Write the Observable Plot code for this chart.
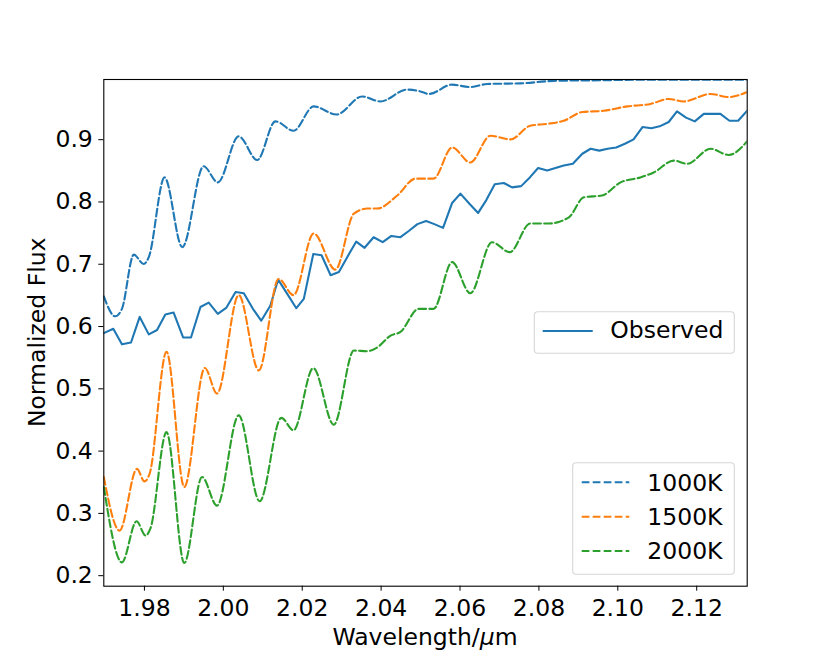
<!DOCTYPE html>
<html>
<head>
<meta charset="utf-8">
<script src="https://cdn.jsdelivr.net/npm/d3@7"></script>
<script src="https://cdn.jsdelivr.net/npm/@observablehq/plot@0.6"></script>
<style>
  html, body { margin: 0; padding: 0; background: white; }
  #chart svg { display: block; }
</style>
</head>
<body>
<div id="chart"></div>
<script>
// ---------- data ----------
const obsWavelength = [1.9697,1.9721,1.9743,1.9766,1.9788,1.9811,1.9832,1.9853,1.9874,1.9898,1.9918,1.9942,1.9963,1.9986,2.0008,2.0031,2.0052,2.0075,2.0096,2.0119,2.0139,2.0162,2.0185,2.0204,2.0228,2.0249,2.0272,2.0293,2.0314,2.0337,2.0358,2.0381,2.0404,2.0426,2.0449,2.0470,2.0492,2.0514,2.0535,2.0557,2.0580,2.0601,2.0625,2.0646,2.0667,2.0688,2.0711,2.0732,2.0755,2.0777,2.0798,2.0821,2.0842,2.0863,2.0886,2.0910,2.0931,2.0953,2.0974,2.0996,2.1018,2.1040,2.1063,2.1085,2.1106,2.1129,2.1150,2.1173,2.1195,2.1218,2.1239,2.1260,2.1283,2.1305,2.1328];
const obsFlux = [0.587,0.594,0.569,0.572,0.613,0.585,0.592,0.617,0.620,0.580,0.580,0.629,0.636,0.618,0.628,0.653,0.651,0.626,0.607,0.631,0.673,0.650,0.627,0.642,0.714,0.712,0.680,0.685,0.709,0.734,0.724,0.741,0.733,0.743,0.741,0.751,0.762,0.767,0.762,0.756,0.796,0.811,0.794,0.780,0.801,0.826,0.828,0.821,0.823,0.837,0.852,0.848,0.852,0.856,0.859,0.875,0.883,0.880,0.883,0.885,0.891,0.898,0.918,0.916,0.919,0.926,0.943,0.933,0.927,0.939,0.939,0.939,0.928,0.928,0.944];

const wl1000 = [1.9697,1.9726,1.9743,1.9773,1.9798,1.9811,1.9851,1.9896,1.9950,1.9986,2.0039,2.0086,2.0132,2.0178,2.0229,2.0287,2.0352,2.0398,2.0466,2.0500,2.0521,2.0580,2.0625,2.0669,2.0753,2.0837,2.0956,2.1083,2.1209,2.1328];
const flux1000 = [0.646,0.614,0.626,0.713,0.698,0.709,0.837,0.725,0.855,0.829,0.903,0.865,0.927,0.912,0.951,0.938,0.967,0.959,0.978,0.975,0.971,0.986,0.982,0.987,0.988,0.992,0.993,0.994,0.994,0.994];

const wl1500 = [1.9697,1.9737,1.9781,1.9800,1.9813,1.9856,1.9901,1.9953,1.9984,2.0039,2.0090,2.0140,2.0178,2.0229,2.0284,2.0331,2.0365,2.0390,2.0441,2.0487,2.0533,2.0580,2.0626,2.0677,2.0728,2.0778,2.0821,2.0863,2.0910,2.0964,2.1024,2.1083,2.1129,2.1167,2.1235,2.1281,2.1328];
const flux1500 = [0.356,0.270,0.369,0.349,0.361,0.557,0.340,0.531,0.490,0.648,0.527,0.674,0.648,0.747,0.689,0.779,0.787,0.787,0.808,0.835,0.835,0.885,0.861,0.904,0.898,0.920,0.923,0.928,0.942,0.944,0.951,0.955,0.963,0.959,0.971,0.966,0.974];

const wl2000 = [1.9697,1.9743,1.9780,1.9803,1.9815,1.9856,1.9901,1.9946,1.9984,2.0039,2.0092,2.0147,2.0178,2.0228,2.0280,2.0331,2.0365,2.0390,2.0424,2.0449,2.0495,2.0533,2.0580,2.0626,2.0681,2.0726,2.0778,2.0825,2.0876,2.0914,2.0960,2.1007,2.1057,2.1091,2.1142,2.1176,2.1235,2.1281,2.1328];
const flux2000 = [0.340,0.219,0.285,0.262,0.273,0.428,0.218,0.356,0.310,0.455,0.317,0.451,0.431,0.531,0.440,0.559,0.558,0.564,0.583,0.589,0.626,0.626,0.701,0.651,0.733,0.717,0.763,0.763,0.773,0.805,0.808,0.829,0.837,0.845,0.864,0.859,0.883,0.873,0.895];

const xTicks = [1.98, 2.00, 2.02, 2.04, 2.06, 2.08, 2.10, 2.12];
const yTicks = [0.2, 0.3, 0.4, 0.5, 0.6, 0.7, 0.8, 0.9];
const modelNames = ["1000K", "1500K", "2000K"];
const modelColors = ["#1f77b4", "#ff7f0e", "#2ca02c"];
const obsName = "Observed";

// ---------- build tables ----------
const obs = obsWavelength.map((w, i) => ({w, f: obsFlux[i]}));
const models = [
  wl1000.map((w, i) => ({w, f: flux1000[i]})),
  wl1500.map((w, i) => ({w, f: flux1500[i]})),
  wl2000.map((w, i) => ({w, f: flux2000[i]}))
];

const FONT = "DejaVu Sans";
const FS = 23.5;
const dash = "7.7,3.3";

const chart = Plot.plot({
  width: 830,
  height: 659,
  marginLeft: 103.3,
  marginRight: 83.3,
  marginTop: 79,
  marginBottom: 73.3,
  x: {domain: [1.9697, 2.1328]},
  y: {domain: [0.1807, 0.9942]},
  style: {fontFamily: FONT, fontSize: FS + "px", color: "black", background: "white"},
  marks: [
    Plot.line(obs, {x: "w", y: "f", stroke: modelColors[0], strokeWidth: 2.1, strokeLinejoin: "round", clip: true}),
    ...models.map((m, k) => Plot.line(m, {x: "w", y: "f", stroke: modelColors[k], strokeWidth: 2.1, strokeDasharray: dash, curve: "monotone-x", clip: true})),
    Plot.frame({stroke: "black", strokeWidth: 1.1}),
    Plot.axisX({ticks: xTicks, tickFormat: d3.format(".2f"), tickSize: 5, tickPadding: 8, label: null}),
    Plot.axisY({ticks: yTicks, tickFormat: d3.format(".1f"), tickSize: 5, tickPadding: 6, dy: 1.5, label: null})
  ]
});

document.getElementById("chart").appendChild(chart);

// ---------- axis labels & legends ----------
const svg = d3.select(chart);
const xl = svg.append("text")
  .attr("x", 425).attr("y", 645)
  .attr("text-anchor", "middle")
  .attr("font-family", FONT).attr("font-size", FS).attr("fill", "black");
xl.append("tspan").text("Wavelength/");
xl.append("tspan").attr("font-style", "italic").text("μ");
xl.append("tspan").text("m");

svg.append("text")
  .attr("transform", "translate(44.5,332.3) rotate(-90)")
  .attr("text-anchor", "middle")
  .attr("font-family", FONT).attr("font-size", FS).attr("fill", "black")
  .text("Normalized Flux");

// Observed legend
const lg1 = svg.append("g");
lg1.append("rect").attr("x", 534.3).attr("y", 311.7).attr("width", 200).attr("height", 41.6)
  .attr("rx", 3.5).attr("fill", "white").attr("fill-opacity", 0.8).attr("stroke", "#d6d6d6").attr("stroke-width", 1.1);
lg1.append("line").attr("x1", 542.7).attr("x2", 592.7).attr("y1", 331).attr("y2", 331)
  .attr("stroke", modelColors[0]).attr("stroke-width", 2.1);
lg1.append("text").attr("x", 610.3).attr("y", 337.9).attr("text-anchor", "start")
  .attr("font-family", FONT).attr("font-size", FS).attr("fill", "black").text(obsName);

// Model legend
const lg2 = svg.append("g");
lg2.append("rect").attr("x", 572.7).attr("y", 462.7).attr("width", 161.6).attr("height", 111.6)
  .attr("rx", 3.5).attr("fill", "white").attr("fill-opacity", 0.8).attr("stroke", "#d6d6d6").attr("stroke-width", 1.1);
const rowsY = [482.3, 516.7, 551];
modelNames.forEach((name, k) => {
  lg2.append("line").attr("x1", 581.7).attr("x2", 629.3).attr("y1", rowsY[k]).attr("y2", rowsY[k])
    .attr("stroke", modelColors[k]).attr("stroke-width", 2.1).attr("stroke-dasharray", dash);
  lg2.append("text").attr("x", 647.3).attr("y", rowsY[k] + 8.4).attr("text-anchor", "start")
    .attr("font-family", FONT).attr("font-size", FS).attr("fill", "black").text(name);
});
</script>
</body>
</html>
